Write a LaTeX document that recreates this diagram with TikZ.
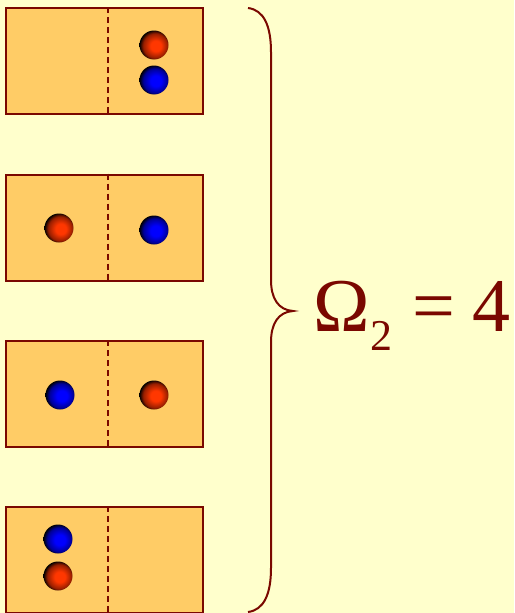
\documentclass[tikz,border=0pt]{standalone}
\usepackage{fontspec}
\setmainfont{Liberation Serif}
\definecolor{bg}{RGB}{255,255,204}
\definecolor{boxfill}{RGB}{255,204,102}
\definecolor{maroon}{RGB}{122,8,0}
\definecolor{rb1}{RGB}{255,55,0}
\definecolor{rb2}{RGB}{150,30,0}
\definecolor{bb1}{RGB}{0,0,255}
\definecolor{bb2}{RGB}{0,0,150}
\pgfdeclareradialshading{redball}{\pgfpoint{4bp}{-2bp}}{color(0bp)=(rb1); color(9bp)=(rb1); color(21bp)=(rb2); color(27bp)=(black); color(50bp)=(black)}
\pgfdeclareradialshading{blueball}{\pgfpoint{4bp}{-2bp}}{color(0bp)=(bb1); color(9bp)=(bb1); color(21bp)=(bb2); color(27bp)=(black); color(50bp)=(black)}
\tikzset{
  cell/.style={draw=maroon, fill=boxfill, line width=2pt, rectangle, minimum width=197pt, minimum height=106pt, inner sep=0pt},
  divider/.style={draw=maroon, line width=2pt, dash pattern=on 6pt off 4pt},
  redp/.style={circle, minimum size=29pt, inner sep=0pt, shading=redball},
  bluep/.style={circle, minimum size=29pt, inner sep=0pt, shading=blueball},
  bracestyle/.style={draw=maroon, line width=2pt},
}
\begin{document}
\begin{tikzpicture}[x=1pt,y=-1pt]
\fill[bg] (0,0) rectangle (514,613);
\useasboundingbox (0,0) rectangle (514,613);
% boxes
\node[cell] (b1) at (104.5,61) {};
\node[cell] (b2) at (104.5,227.5) {};
\node[cell] (b3) at (104.5,394) {};
\node[cell] (b4) at (104.5,560) {};
\foreach \b in {b1,b2,b3,b4}{
  \draw[divider] (\b.north west -| 108,0) -- (\b.south west -| 108,0);
}
% balls
\node[redp] (r1) at (154,45) {};
\node[bluep] (u1) at (154,80) {};
\node[redp] (r2) at (59,228) {};
\node[bluep] (u2) at (154,230) {};
\node[bluep] (u3) at (60,395) {};
\node[redp] (r3) at (154,395) {};
\node[bluep] (u4) at (58,539) {};
\node[redp] (r4) at (58,576) {};
% brace
\draw[bracestyle] (248,8) .. controls (264,10) and (271,26) .. (271,52) -- (271,280) .. controls (271,298) and (278,310) .. (293,311) .. controls (278,312) and (271,324) .. (271,342) -- (271,568) .. controls (271,594) and (264,610) .. (248,612);
% label
\node[anchor=base west, inner sep=0pt, text=maroon, font=\fontsize{76}{76}\selectfont] (lab) at (313,331) {Ω\hspace{1pt}\raisebox{-19pt}{\fontsize{44}{44}\selectfont 2}\hspace{20pt}=\hspace{17pt}4};
\end{tikzpicture}
\end{document}
